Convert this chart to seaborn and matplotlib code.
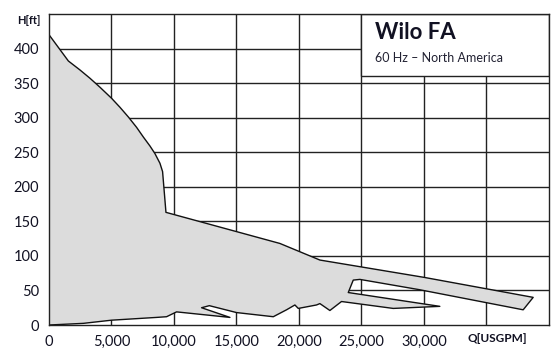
import matplotlib
matplotlib.use("Agg")
import matplotlib.pyplot as plt
import seaborn as sns
import pandas as pd
from matplotlib.patches import Rectangle

# outline of the FA range envelope (flow in USGPM, head in ft)
q_outline = [0, 0, 1550, 2480, 3280, 4080, 5010, 5680, 6350, 7010, 7550, 8080,
             8480, 8880, 9090, 9360,
             18480, 21680, 30000, 38750, 37950, 29680, 24880, 24350, 23950,
             31280, 27550, 23410, 22480, 21680, 21410, 19950, 19680, 19010,
             17950, 15010, 12830, 12210, 14480, 10210, 9410, 8610, 5010, 2750, 0]
h_outline = [0, 420, 382, 369, 357, 344, 328, 315, 301, 286, 272, 259,
             248, 234, 222, 163,
             118, 94, 69, 40, 22, 51, 66, 65, 47,
             27, 24, 34, 21, 31, 29, 24, 29, 22,
             12, 18, 28, 25, 11, 19, 12, 11, 7, 2.4, 0]

x_ticks = [0, 5000, 10000, 15000, 20000, 25000, 30000]
x_tick_labels = ['0', '5,000', '10,000', '15,000', '20,000', '25,000', '30,000']
y_ticks = [0, 50, 100, 150, 200, 250, 300, 350, 400]
x_grid = [5000, 10000, 15000, 20000, 25000, 30000, 35000]

title = 'Wilo FA'
subtitle = '60 Hz – North America'

sns.set_style('white')
plt.rcParams['font.family'] = ['Lato', 'DejaVu Sans']

fig = plt.figure(figsize=(5.6, 3.57), dpi=100)
ax = fig.add_axes([0.0875, 0.0896, 0.8925, 0.8712])

# grid lines (under the fill)
for xv in x_grid:
    ax.axvline(xv, color='#222222', lw=1.0, zorder=1)
for yv in y_ticks[1:]:
    ax.axhline(yv, color='#222222', lw=1.0, zorder=1)

ax.fill(q_outline, h_outline, color='#dcdcdc', zorder=2, lw=0)
df = pd.DataFrame({'Q': q_outline, 'H': h_outline})
sns.lineplot(data=df, x='Q', y='H', sort=False, estimator=None,
             color='#111111', lw=1.0, ax=ax, zorder=3)

# title box in the upper right
ax.add_patch(Rectangle((25000, 361), 15000, 89, facecolor='white',
                       edgecolor='#222222', lw=1.0, zorder=4))
ax.text(26100, 423, title, fontsize=16, fontweight='bold', color='#111122',
        va='center', ha='left', zorder=5)
ax.text(26100, 386, subtitle, fontsize=9, color='#222233',
        va='center', ha='left', zorder=5)

ax.set_xlim(0, 40000)
ax.set_ylim(0, 450)
ax.set_xticks(x_ticks)
ax.set_xticklabels(x_tick_labels)
ax.set_yticks(y_ticks)
ax.tick_params(axis='both', length=0, labelsize=10.5, colors='#111122', pad=7)
ax.set_xlabel('')
ax.set_ylabel('')
for s in ax.spines.values():
    s.set_color('#222222')
    s.set_linewidth(1.0)
    s.set_zorder(6)

fig.text(29 / 560, 1 - 20 / 357, 'H[ft]', fontsize=8, fontweight='bold',
         color='#111122', ha='center', va='center')
fig.text(497 / 560, 1 - 339 / 357, 'Q[USGPM]', fontsize=8.5, fontweight='bold',
         color='#111122', ha='center', va='center')

fig.savefig('out.png', dpi=100)
